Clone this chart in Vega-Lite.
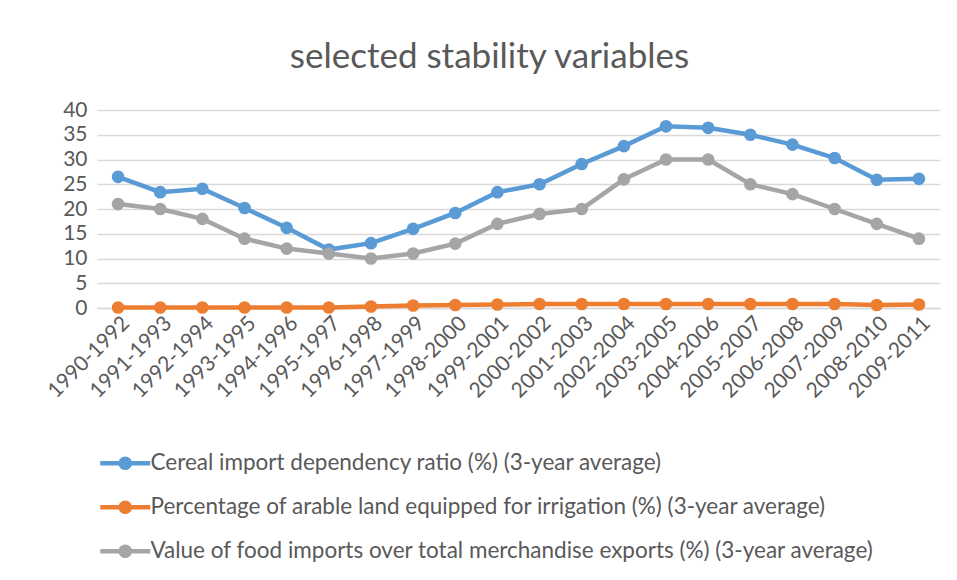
{
  "$schema": "https://vega.github.io/schema/vega-lite/v6.json",
  "autosize": "none",
  "width": 843,
  "height": 198,
  "padding": {"left": 97, "top": 110, "right": 17, "bottom": 272},
  "background": "white",
  "title": {
    "text": "selected stability variables",
    "fontSize": 35,
    "font": "Lato",
    "fontWeight": "normal",
    "color": "#595959",
    "anchor": "middle",
    "dx": -29,
    "offset": 24
  },
  "data": {
    "values": [
      {"period": "1990-1992", "series": "Cereal import dependency ratio (%) (3-year average)", "value": 26.5},
      {"period": "1991-1993", "series": "Cereal import dependency ratio (%) (3-year average)", "value": 23.4},
      {"period": "1992-1994", "series": "Cereal import dependency ratio (%) (3-year average)", "value": 24.1},
      {"period": "1993-1995", "series": "Cereal import dependency ratio (%) (3-year average)", "value": 20.2},
      {"period": "1994-1996", "series": "Cereal import dependency ratio (%) (3-year average)", "value": 16.2},
      {"period": "1995-1997", "series": "Cereal import dependency ratio (%) (3-year average)", "value": 11.8},
      {"period": "1996-1998", "series": "Cereal import dependency ratio (%) (3-year average)", "value": 13.1},
      {"period": "1997-1999", "series": "Cereal import dependency ratio (%) (3-year average)", "value": 16.0},
      {"period": "1998-2000", "series": "Cereal import dependency ratio (%) (3-year average)", "value": 19.2},
      {"period": "1999-2001", "series": "Cereal import dependency ratio (%) (3-year average)", "value": 23.4},
      {"period": "2000-2002", "series": "Cereal import dependency ratio (%) (3-year average)", "value": 25.0},
      {"period": "2001-2003", "series": "Cereal import dependency ratio (%) (3-year average)", "value": 29.1},
      {"period": "2002-2004", "series": "Cereal import dependency ratio (%) (3-year average)", "value": 32.7},
      {"period": "2003-2005", "series": "Cereal import dependency ratio (%) (3-year average)", "value": 36.7},
      {"period": "2004-2006", "series": "Cereal import dependency ratio (%) (3-year average)", "value": 36.4},
      {"period": "2005-2007", "series": "Cereal import dependency ratio (%) (3-year average)", "value": 35.0},
      {"period": "2006-2008", "series": "Cereal import dependency ratio (%) (3-year average)", "value": 33.0},
      {"period": "2007-2009", "series": "Cereal import dependency ratio (%) (3-year average)", "value": 30.3},
      {"period": "2008-2010", "series": "Cereal import dependency ratio (%) (3-year average)", "value": 25.9},
      {"period": "2009-2011", "series": "Cereal import dependency ratio (%) (3-year average)", "value": 26.1},
      {"period": "1990-1992", "series": "Percentage of arable land equipped for irrigation (%) (3-year average)", "value": 0.1},
      {"period": "1991-1993", "series": "Percentage of arable land equipped for irrigation (%) (3-year average)", "value": 0.1},
      {"period": "1992-1994", "series": "Percentage of arable land equipped for irrigation (%) (3-year average)", "value": 0.1},
      {"period": "1993-1995", "series": "Percentage of arable land equipped for irrigation (%) (3-year average)", "value": 0.1},
      {"period": "1994-1996", "series": "Percentage of arable land equipped for irrigation (%) (3-year average)", "value": 0.1},
      {"period": "1995-1997", "series": "Percentage of arable land equipped for irrigation (%) (3-year average)", "value": 0.1},
      {"period": "1996-1998", "series": "Percentage of arable land equipped for irrigation (%) (3-year average)", "value": 0.3},
      {"period": "1997-1999", "series": "Percentage of arable land equipped for irrigation (%) (3-year average)", "value": 0.5},
      {"period": "1998-2000", "series": "Percentage of arable land equipped for irrigation (%) (3-year average)", "value": 0.6},
      {"period": "1999-2001", "series": "Percentage of arable land equipped for irrigation (%) (3-year average)", "value": 0.7},
      {"period": "2000-2002", "series": "Percentage of arable land equipped for irrigation (%) (3-year average)", "value": 0.8},
      {"period": "2001-2003", "series": "Percentage of arable land equipped for irrigation (%) (3-year average)", "value": 0.8},
      {"period": "2002-2004", "series": "Percentage of arable land equipped for irrigation (%) (3-year average)", "value": 0.8},
      {"period": "2003-2005", "series": "Percentage of arable land equipped for irrigation (%) (3-year average)", "value": 0.8},
      {"period": "2004-2006", "series": "Percentage of arable land equipped for irrigation (%) (3-year average)", "value": 0.8},
      {"period": "2005-2007", "series": "Percentage of arable land equipped for irrigation (%) (3-year average)", "value": 0.8},
      {"period": "2006-2008", "series": "Percentage of arable land equipped for irrigation (%) (3-year average)", "value": 0.8},
      {"period": "2007-2009", "series": "Percentage of arable land equipped for irrigation (%) (3-year average)", "value": 0.8},
      {"period": "2008-2010", "series": "Percentage of arable land equipped for irrigation (%) (3-year average)", "value": 0.6},
      {"period": "2009-2011", "series": "Percentage of arable land equipped for irrigation (%) (3-year average)", "value": 0.7},
      {"period": "1990-1992", "series": "Value of food imports over total merchandise exports (%) (3-year average)", "value": 21},
      {"period": "1991-1993", "series": "Value of food imports over total merchandise exports (%) (3-year average)", "value": 20},
      {"period": "1992-1994", "series": "Value of food imports over total merchandise exports (%) (3-year average)", "value": 18},
      {"period": "1993-1995", "series": "Value of food imports over total merchandise exports (%) (3-year average)", "value": 14},
      {"period": "1994-1996", "series": "Value of food imports over total merchandise exports (%) (3-year average)", "value": 12},
      {"period": "1995-1997", "series": "Value of food imports over total merchandise exports (%) (3-year average)", "value": 11},
      {"period": "1996-1998", "series": "Value of food imports over total merchandise exports (%) (3-year average)", "value": 10},
      {"period": "1997-1999", "series": "Value of food imports over total merchandise exports (%) (3-year average)", "value": 11},
      {"period": "1998-2000", "series": "Value of food imports over total merchandise exports (%) (3-year average)", "value": 13},
      {"period": "1999-2001", "series": "Value of food imports over total merchandise exports (%) (3-year average)", "value": 17},
      {"period": "2000-2002", "series": "Value of food imports over total merchandise exports (%) (3-year average)", "value": 19},
      {"period": "2001-2003", "series": "Value of food imports over total merchandise exports (%) (3-year average)", "value": 20},
      {"period": "2002-2004", "series": "Value of food imports over total merchandise exports (%) (3-year average)", "value": 26},
      {"period": "2003-2005", "series": "Value of food imports over total merchandise exports (%) (3-year average)", "value": 30},
      {"period": "2004-2006", "series": "Value of food imports over total merchandise exports (%) (3-year average)", "value": 30},
      {"period": "2005-2007", "series": "Value of food imports over total merchandise exports (%) (3-year average)", "value": 25},
      {"period": "2006-2008", "series": "Value of food imports over total merchandise exports (%) (3-year average)", "value": 23},
      {"period": "2007-2009", "series": "Value of food imports over total merchandise exports (%) (3-year average)", "value": 20},
      {"period": "2008-2010", "series": "Value of food imports over total merchandise exports (%) (3-year average)", "value": 17},
      {"period": "2009-2011", "series": "Value of food imports over total merchandise exports (%) (3-year average)", "value": 14}
    ]
  },
  "mark": {
    "type": "line",
    "strokeWidth": 4.5,
    "point": {"filled": true, "size": 160}
  },
  "encoding": {
    "x": {
      "field": "period",
      "type": "ordinal",
      "title": null,
      "scale": {"type": "point", "padding": 0.5},
      "axis": {
        "labelAngle": -45,
        "labelFontSize": 21,
        "labelColor": "#595959",
        "labelFont": "Lato",
        "ticks": false,
        "domainColor": "#d9d9d9",
        "domainWidth": 1.5,
        "labelPadding": 4,
        "grid": false
      }
    },
    "y": {
      "field": "value",
      "type": "quantitative",
      "title": null,
      "scale": {"domain": [0, 40]},
      "axis": {
        "values": [0, 5, 10, 15, 20, 25, 30, 35, 40],
        "labelFontSize": 21,
        "labelColor": "#595959",
        "labelFont": "Lato",
        "domain": false,
        "ticks": false,
        "gridColor": "#d9d9d9",
        "gridWidth": 1.5,
        "labelPadding": 10
      }
    },
    "color": {
      "field": "series",
      "type": "nominal",
      "scale": {"range": ["#5B9BD5", "#ED7D31", "#A5A5A5"]},
      "legend": {
        "title": null,
        "orient": "none",
        "legendX": 17,
        "legendY": 342,
        "direction": "vertical",
        "labelFontSize": 22.5,
        "labelFont": "Lato",
        "labelColor": "#595959",
        "labelLimit": 900,
        "rowPadding": 21,
        "symbolSize": 400,
        "symbolStrokeWidth": 0,
        "symbolType": "M-2.5,-0.22L2.5,-0.22L2.5,0.22L-2.5,0.22Z M-0.68,0A0.68,0.68,0,1,1,0.68,0A0.68,0.68,0,1,1,-0.68,0Z",
        "labelOffset": 14,
        "encode": {
          "symbols": {"update": {"fill": {"scale": "color", "field": "value"}, "fillOpacity": {"value": 1}}}
        }
      }
    }
  },
  "config": {"view": {"stroke": null}}
}
